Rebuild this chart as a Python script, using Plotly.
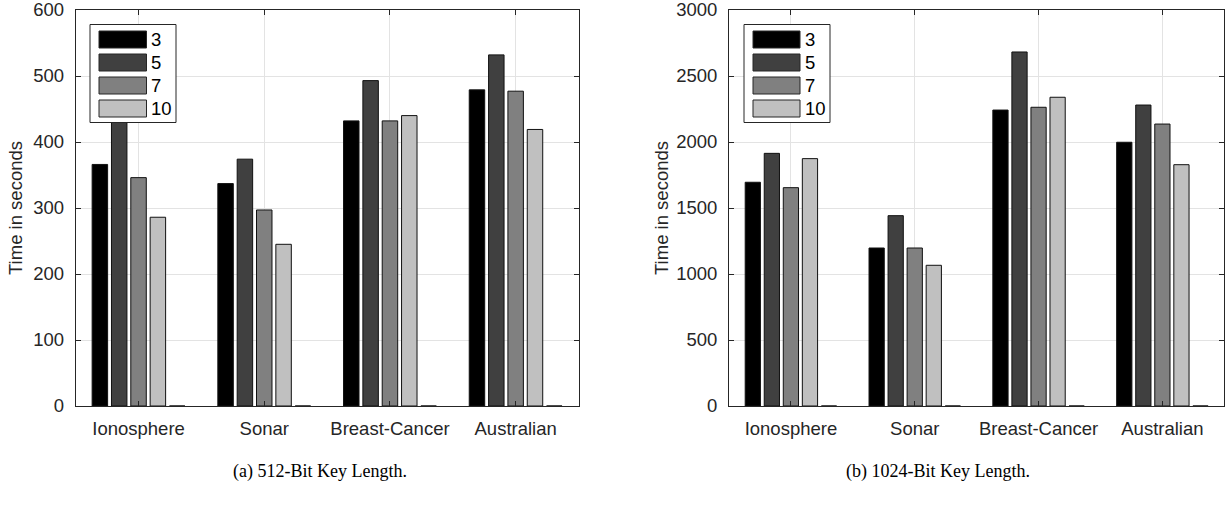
import plotly.graph_objects as go

categories = ["Ionosphere", "Sonar", "Breast-Cancer", "Australian"]
series_names = ["3", "5", "7", "10"]
series_colors = ["#000000", "#404040", "#808080", "#c0c0c0"]

# 512-bit key length
t512_3 = [366, 337, 432, 479]
t512_5 = [445, 374, 493, 532]
t512_7 = [346, 297, 432, 477]
t512_10 = [286, 245, 440, 419]
t512_empty = [0, 0, 0, 0]

# 1024-bit key length
t1024_3 = [1695, 1197, 2242, 1998]
t1024_5 = [1914, 1442, 2682, 2280]
t1024_7 = [1654, 1197, 2263, 2136]
t1024_10 = [1874, 1066, 2339, 1828]
t1024_empty = [0, 0, 0, 0]

y_title = "Time in seconds"
captions = ["(a) 512-Bit Key Length.", "(b) 1024-Bit Key Length."]

W, H = 1230, 508
def px(x):
    return x / W
def py(y):
    return 1 - y / H

FONT = "Liberation Sans, Arial, sans-serif"
AXC = "#262626"
FS = 18.5

fig = go.Figure()
x_pos = [1, 2, 3, 4]

panels = [
    (("x", "y"), [t512_3, t512_5, t512_7, t512_10, t512_empty]),
    (("x2", "y2"), [t1024_3, t1024_5, t1024_7, t1024_10, t1024_empty]),
]
for (xa, ya), data in panels:
    for i, vals in enumerate(data):
        if i < 4:
            col = series_colors[i]
            nm = series_names[i]
        else:
            col = AXC
            nm = ""
        fig.add_trace(go.Bar(
            x=x_pos, y=vals, name=nm, xaxis=xa, yaxis=ya,
            marker=dict(color=col, line=dict(color="#111111", width=1)),
            showlegend=False, offsetgroup=str(i),
        ))

ydom = [py(406), py(10)]
xdom1 = [px(75.7), px(578.5)]
xdom2 = [px(729), px(1224.3)]

axis_common = dict(
    showline=True, linecolor=AXC, linewidth=1, mirror="ticks",
    ticks="inside", ticklen=5, tickcolor=AXC, tickwidth=1,
    showgrid=True, gridcolor="#e3e3e3", gridwidth=1,
    tickfont=dict(family=FONT, size=FS, color=AXC),
    zeroline=False, automargin=False, ticklabeloverflow="allow",
)

fig.update_layout(
    width=W, height=H,
    margin=dict(l=0, r=0, t=0, b=0),
    paper_bgcolor="white", plot_bgcolor="white",
    barmode="group", bargap=1 - 5 / 6.5, bargroupgap=0.2,
    showlegend=False,
    xaxis=dict(domain=xdom1, range=[0.5, 4.5], tickvals=x_pos, ticktext=categories, anchor="y",
               ticklabelstandoff=6, **axis_common),
    yaxis=dict(domain=ydom, range=[0, 600], dtick=100, anchor="x", ticklabelstandoff=7, **axis_common),
    xaxis2=dict(domain=xdom2, range=[0.5, 4.5], tickvals=x_pos, ticktext=categories, anchor="y2",
                ticklabelstandoff=6, **axis_common),
    yaxis2=dict(domain=ydom, range=[0, 3000], dtick=500, anchor="x2", ticklabelstandoff=7, **axis_common),
)

shapes = []
annotations = []

# legends drawn as boxes
for (bx0, bx1, rx0, rx1, tx) in [(90, 176, 99, 146.5, 149), (744, 830, 753, 800, 803)]:
    shapes.append(dict(type="rect", xref="paper", yref="paper",
                       x0=px(bx0), x1=px(bx1), y0=py(122.5), y1=py(24.5),
                       fillcolor="white", line=dict(color=AXC, width=1), layer="above"))
    for i, nm in enumerate(series_names):
        top = 31 + i * 23
        bot = top + 17
        shapes.append(dict(type="rect", xref="paper", yref="paper",
                           x0=px(rx0), x1=px(rx1), y0=py(bot), y1=py(top),
                           fillcolor=series_colors[i], line=dict(color=AXC, width=1), layer="above"))
        annotations.append(dict(xref="paper", yref="paper", x=px(tx), y=py((top + bot) / 2),
                                text=nm, showarrow=False, xanchor="left", yanchor="middle",
                                font=dict(family=FONT, size=FS, color="#000000")))

# y-axis titles
for xc in [16, 662]:
    annotations.append(dict(xref="paper", yref="paper", x=px(xc), y=py(208), text=y_title,
                            textangle=-90, showarrow=False, xanchor="center", yanchor="middle",
                            font=dict(family=FONT, size=FS, color=AXC)))

# captions
for xc, cap in zip([320, 938], captions):
    annotations.append(dict(xref="paper", yref="paper", x=px(xc), y=py(471), text=cap,
                            showarrow=False, xanchor="center", yanchor="middle",
                            font=dict(family="Liberation Serif, Times New Roman, serif", size=18, color="#000000")))

fig.update_layout(shapes=shapes, annotations=annotations)
fig.write_html("out.html", config={"displayModeBar": False},
               post_script="document.body.style.margin='0';document.body.style.overflow='hidden';")
